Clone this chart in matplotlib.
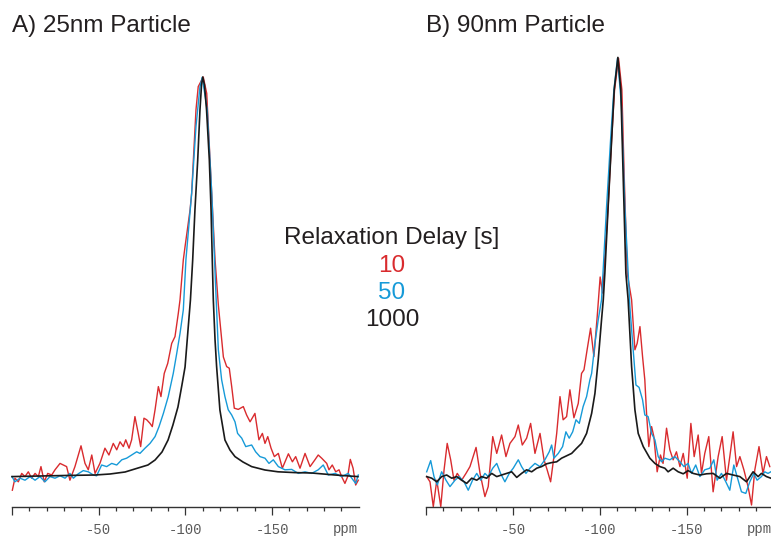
import matplotlib
matplotlib.use("Agg")
import matplotlib.pyplot as plt

# colours of the three relaxation delays
RED = '#d92b2e'
BLUE = '#169ad8'
BLACK = '#1a1a1a'

titles = ['A) 25nm Particle', 'B) 90nm Particle']
delays = ['10', '50', '1000']
legend_title = 'Relaxation Delay [s]'
major_ticks = [0, -50, -100, -150]
major_labels = ['', '-50', '-100', '-150']
minor_ticks = [-10, -20, -30, -40, -60, -70, -80, -90, -110, -120, -130, -140,
               -160, -170, -180, -190]

# ---- panel A (25 nm), delay 1000 s
a_black_ppm = [0, -16.1, -33.4, -47.9, -56.5, -65.2, -72.7, -78.4, -82.5, -86.5,
               -90.0, -92.8, -95.7, -98.0, -99.8, -101.5, -102.9, -104.2, -105.5, -107.1,
               -108.4, -109.3, -110.0, -111.0, -112.2, -113.8, -114.8, -115.5, -116.1, -117.1,
               -118.0, -119.9, -122.8, -125.7, -128.6, -133.2, -138.2, -145.9, -153.4, -163.2,
               -172.8, -186.3, -199.5]
a_black_int = [0.001, 0.0025, 0.004, 0.005, 0.0075, 0.0125, 0.0225, 0.03, 0.0425, 0.0625,
               0.0925, 0.13, 0.175, 0.23, 0.275, 0.3675, 0.4425, 0.5425, 0.6675, 0.7925,
               0.9175, 0.98, 1.0, 0.98, 0.9175, 0.7925, 0.6675, 0.5425, 0.4425, 0.3425,
               0.276, 0.1675, 0.0925, 0.0675, 0.051, 0.0375, 0.026, 0.0175, 0.013, 0.011,
               0.01, 0.005, 0.001]

# ---- panel A, delay 10 s
a_red_ppm = [-0.2, -1.7, -3.65, -5.6, -7.5, -9.4, -11.35, -13.3, -15.2, -16.7,
             -18.6, -20.6, -22.9, -24.8, -27.7, -29.6, -31.5, -33.4, -36.3, -39.8,
             -42.1, -44.0, -46.0, -47.9, -50.7, -53.6, -55.9, -58.4, -60.4, -62.3,
             -64.2, -65.6, -67.5, -69.0, -70.9, -72.8, -74.2, -76.1, -77.7, -79.6,
             -80.9, -82.5, -84.4, -85.9, -87.8, -89.8, -92.1, -94.0, -95.9, -96.9,
             -98.8, -99.8, -102.7, -103.6, -104.6, -106.1, -107.4, -110.3, -112.3, -114.2,
             -117.1, -119.0, -121.9, -123.8, -125.3, -126.7, -128.2, -130.5, -133.4, -135.3,
             -137.3, -140.1, -142.4, -144.4, -145.9, -147.5, -149.4, -151.3, -153.6, -155.9,
             -159.4, -161.7, -163.6, -166.1, -169.0, -171.9, -174.7, -176.6, -178.6, -181.5,
             -182.8, -184.7, -186.7, -188.6, -190.1, -192.0, -193.6, -195.1, -196.7, -198.2,
             -199.7]
a_red_int = [-0.033, -0.003, -0.012, 0.009, 0.001, 0.013, -0.003, 0.009, 0.001, 0.026,
             -0.012, 0.009, 0.005, 0.018, 0.034, 0.030, 0.026, -0.008, 0.026, 0.078,
             0.034, 0.018, 0.055, 0.009, 0.034, 0.072, 0.055, 0.084, 0.068, 0.088,
             0.076, 0.093, 0.072, 0.093, 0.151, 0.109, 0.076, 0.147, 0.143, 0.134,
             0.126, 0.168, 0.226, 0.201, 0.259, 0.284, 0.334, 0.351, 0.409, 0.443,
             0.543, 0.576, 0.668, 0.709, 0.793, 0.918, 0.976, 1.0, 0.959, 0.793,
             0.543, 0.43, 0.300, 0.276, 0.272, 0.226, 0.172, 0.169, 0.176, 0.155,
             0.138, 0.159, 0.093, 0.109, 0.084, 0.101, 0.072, 0.051, 0.059, 0.022,
             0.058, 0.038, 0.051, 0.022, 0.059, 0.026, 0.043, 0.055, 0.047, 0.034,
             0.018, 0.030, 0.013, 0.018, 0.001, -0.016, 0.001, 0.044, 0.022, -0.020,
             -0.008]

# ---- panel A, delay 50 s
a_blue_ppm = [0, -1.7, -4.6, -7.5, -10.4, -13.3, -16.1, -19.0, -21.9, -24.8,
              -27.7, -30.6, -33.4, -35.4, -38.2, -41.1, -44.0, -46.9, -48.8, -51.7,
              -54.6, -57.5, -60.4, -63.3, -66.1, -69.0, -71.9, -73.8, -76.7, -79.6,
              -82.5, -84.8, -87.3, -90.1, -93.0, -95.0, -96.9, -98.8, -100.3, -103.6,
              -106.1, -108.4, -109.7, -112.6, -115.2, -117.6, -119.0, -120.9, -122.8, -124.7,
              -126.7, -128.6, -130.1, -132.5, -134.8, -138.2, -140.5, -143.0, -145.9, -148.2,
              -150.7, -153.6, -157.4, -161.3, -165.1, -169.0, -172.8, -176.6, -179.5, -182.4,
              -186.3, -190.1, -193.9, -196.8, -198.2, -199.7]
a_blue_int = [0.001, -0.012, -0.003, -0.008, 0.001, -0.008, 0.001, -0.012, 0.001, -0.003,
              0.003, -0.003, 0.009, -0.003, 0.008, 0.016, 0.013, 0.005, 0.003, 0.030,
              0.026, 0.034, 0.030, 0.043, 0.047, 0.055, 0.063, 0.059, 0.072, 0.084,
              0.101, 0.126, 0.159, 0.201, 0.259, 0.309, 0.359, 0.418, 0.543, 0.709,
              0.876, 0.976, 0.999, 0.918, 0.709, 0.459, 0.318, 0.243, 0.201, 0.168,
              0.155, 0.138, 0.109, 0.097, 0.076, 0.080, 0.063, 0.051, 0.047, 0.034,
              0.043, 0.026, 0.018, 0.019, 0.009, 0.013, 0.009, 0.018, 0.030, 0.005,
              0.009, 0.001, 0.009, -0.008, -0.016, 0.005]

# ---- panel B (90 nm), delay 1000 s
b_black_ppm = [-0.4, -3.3, -6.2, -9.0, -11.9, -14.8, -17.7, -20.5, -23.4, -26.3,
               -29.2, -32.0, -34.9, -37.8, -40.7, -43.5, -46.4, -49.3, -52.2, -55.0,
               -57.9, -60.8, -63.7, -66.5, -69.4, -72.3, -75.2, -78.0, -80.9, -83.8,
               -86.7, -89.5, -92.4, -95.3, -97.2, -99.1, -101.0, -102.0, -102.9, -104.8,
               -106.8, -108.3, -110.4, -112.1, -113.4, -115.0, -116.3, -118.3, -120.2, -122.1,
               -125.0, -128.8, -131.7, -134.6, -137.4, -139.3, -142.2, -145.1, -148.0, -150.8,
               -153.7, -157.6, -161.4, -165.2, -169.1, -172.9, -176.7, -180.6, -184.4, -188.2,
               -191.1, -193.0, -195.9, -198.4]
b_black_int = [0.001, -0.003, -0.012, 0.001, 0.005, -0.003, 0.001, -0.008, -0.016, -0.003,
               -0.008, 0.001, -0.003, 0.009, 0.001, 0.005, 0.009, 0.013, -0.001, 0.009,
               0.018, 0.013, 0.022, 0.026, 0.033, 0.036, 0.038, 0.047, 0.053, 0.059,
               0.072, 0.084, 0.109, 0.159, 0.209, 0.293, 0.393, 0.443, 0.509, 0.676,
               0.843, 0.968, 1.049, 0.968, 0.759, 0.509, 0.443, 0.276, 0.168, 0.109,
               0.076, 0.047, 0.034, 0.026, 0.022, 0.013, 0.022, 0.013, 0.008, 0.016,
               0.009, 0.005, 0.008, 0.009, -0.003, 0.009, 0.005, 0.001, -0.012, 0.013,
               0.001, 0.009, 0.001, -0.003]

# ---- panel B, delay 10 s
b_red_ppm = [-0.4, -2.3, -4.2, -6.2, -8.5, -10.4, -12.2, -14.2, -16.1, -18.0,
             -20.5, -23.0, -25.3, -28.8, -31.1, -33.9, -35.8, -38.4, -40.7, -43.5,
             -46.0, -48.3, -51.2, -53.1, -55.4, -57.9, -60.2, -62.7, -65.6, -67.9,
             -69.7, -71.7, -73.6, -75.2, -77.1, -78.9, -80.9, -82.8, -85.1, -87.6,
             -89.5, -90.9, -92.7, -94.7, -96.6, -98.5, -100.2, -101.6, -104.8, -106.8,
             -108.5, -110.8, -112.7, -114.0, -115.8, -118.3, -120.2, -121.5, -123.1, -124.6,
             -125.9, -126.9, -128.2, -129.8, -131.1, -133.0, -134.9, -136.4, -138.4, -140.3,
             -142.2, -144.1, -146.1, -148.0, -150.3, -152.4, -154.3, -156.6, -158.5, -160.4,
             -162.7, -165.2, -168.1, -170.4, -172.9, -174.8, -176.7, -178.7, -180.6, -182.9,
             -185.3, -187.3, -189.2, -191.6, -193.9, -195.9, -197.8]
b_red_int = [0.001, -0.012, -0.074, -0.008, -0.074, 0.018, 0.084, 0.043, -0.008, 0.009,
             -0.008, 0.009, 0.026, 0.074, 0.009, -0.049, -0.024, 0.101, 0.059, 0.105,
             0.051, 0.084, 0.101, 0.130, 0.080, 0.097, 0.134, 0.059, 0.109, 0.043,
             0.018, -0.012, 0.051, 0.109, 0.201, 0.143, 0.151, 0.218, 0.148, 0.184,
             0.259, 0.268, 0.318, 0.372, 0.301, 0.401, 0.500, 0.460, 0.676, 0.843,
             0.968, 1.047, 0.968, 0.759, 0.509, 0.443, 0.318, 0.334, 0.376, 0.301,
             0.243, 0.159, 0.076, 0.126, 0.101, 0.013, 0.055, 0.034, 0.122, 0.068,
             0.043, 0.063, 0.026, 0.059, -0.003, 0.134, 0.051, 0.105, 0.009, 0.059,
             0.101, -0.037, 0.051, 0.101, -0.008, 0.051, 0.113, 0.026, 0.051, 0.018,
             -0.024, -0.070, 0.018, 0.076, 0.009, 0.051, 0.026]

# ---- panel B, delay 50 s
b_blue_ppm = [-0.4, -2.7, -4.6, -6.5, -9.0, -11.5, -13.8, -16.7, -19.1, -21.9,
              -24.3, -26.8, -29.2, -31.5, -33.9, -35.8, -38.4, -40.7, -42.9, -45.4,
              -47.9, -50.2, -53.1, -55.0, -57.5, -59.8, -62.7, -65.6, -68.4, -70.9,
              -72.3, -73.6, -76.1, -78.6, -80.5, -82.4, -84.4, -86.3, -88.2, -90.4,
              -92.4, -94.3, -95.3, -97.2, -99.1, -101.0, -103.9, -106.2, -108.1, -110.2,
              -112.5, -114.4, -117.3, -119.2, -120.8, -122.6, -124.6, -125.9, -127.8, -129.8,
              -131.7, -133.6, -135.5, -137.4, -140.3, -143.2, -146.1, -148.4, -150.8, -152.8,
              -155.2, -157.6, -160.4, -163.3, -165.6, -167.5, -170.0, -172.5, -174.8, -177.1,
              -179.0, -181.5, -184.0, -186.3, -188.6, -190.5, -193.0, -194.9, -196.8, -198.4]
b_blue_int = [0.013, 0.041, 0.001, -0.020, 0.013, -0.008, -0.024, -0.008, 0.001, -0.012,
              -0.033, -0.008, 0.009, -0.008, 0.009, 0.001, 0.022, 0.034, 0.009, -0.012,
              0.009, 0.022, 0.043, 0.026, 0.009, 0.022, 0.034, 0.026, 0.043, 0.063,
              0.080, 0.047, 0.059, 0.076, 0.113, 0.097, 0.113, 0.143, 0.134, 0.176,
              0.201, 0.243, 0.259, 0.334, 0.393, 0.443, 0.676, 0.843, 0.968, 1.047,
              0.926, 0.676, 0.426, 0.318, 0.230, 0.224, 0.193, 0.155, 0.151, 0.109,
              0.093, 0.051, 0.038, 0.047, 0.043, 0.051, 0.038, 0.026, 0.034, 0.009,
              0.030, 0.001, 0.018, 0.022, 0.043, -0.008, 0.009, -0.012, -0.033, 0.030,
              0.001, -0.037, -0.041, -0.012, 0.009, -0.008, 0.001, 0.013, 0.009, 0.013]

W, H = 771, 541
fig = plt.figure(figsize=(W / 100, H / 100), dpi=100)
text_font = ['Liberation Sans', 'DejaVu Sans']
tick_font = ['Liberation Mono', 'DejaVu Sans Mono']


def spectrum_axes(left_px, width_px, bottom_px=507, top_px=50):
    ax = fig.add_axes([left_px / W, 1 - bottom_px / H, width_px / W, (bottom_px - top_px) / H])
    ax.set_xlim(0, -200)
    ax.set_ylim(-0.075, 1.0675)
    for side in ['left', 'right', 'top']:
        ax.spines[side].set_visible(False)
    ax.spines['bottom'].set_color('#333333')
    ax.spines['bottom'].set_linewidth(1.0)
    ax.set_yticks([])
    ax.set_xticks(major_ticks)
    ax.set_xticklabels(major_labels, family=tick_font, color='#5a5a5a', fontsize=10)
    ax.set_xticks(minor_ticks, minor=True)
    ax.tick_params(axis='x', which='major', direction='out', length=5.8, width=0.9,
                   color='#333333', pad=6)
    ax.tick_params(axis='x', which='minor', direction='out', length=2.9, width=0.9,
                   color='#333333')
    ax.annotate('ppm', xy=(-192, 0), xycoords=('data', 'axes fraction'),
                xytext=(0, -10.5), textcoords='offset points', ha='center', va='top',
                family=tick_font, color='#5a5a5a', fontsize=10, annotation_clip=False)
    return ax


axA = spectrum_axes(12, 346.8)
axA.plot(a_red_ppm, a_red_int, color=RED, lw=1.0, clip_on=False)
axA.plot(a_blue_ppm, a_blue_int, color=BLUE, lw=1.0, clip_on=False)
axA.plot(a_black_ppm, a_black_int, color=BLACK, lw=1.2, clip_on=False)

axB = spectrum_axes(426, 347.6)
axB.plot(b_red_ppm, b_red_int, color=RED, lw=1.0, clip_on=False)
axB.plot(b_blue_ppm, b_blue_int, color=BLUE, lw=1.0, clip_on=False)
axB.plot(b_black_ppm, b_black_int, color=BLACK, lw=1.2, clip_on=False)

# panel titles
fig.text(12 / W, 1 - 32.3 / H, titles[0], fontsize=17.5, family=text_font,
         color='#231f20', va='baseline')
fig.text(426 / W, 1 - 32.3 / H, titles[1], fontsize=17.5, family=text_font,
         color='#231f20', va='baseline')

# legend written as centred text lines
fig.text(392 / W, 1 - 244.3 / H, legend_title, fontsize=17.5, family=text_font,
         color='#231f20', ha='center', va='baseline')
for label, col, base in zip(delays, [RED, BLUE, '#231f20'], [271.7, 299.3, 326.0]):
    fig.text(392 / W, 1 - base / H, label, fontsize=17.5, family=text_font,
             color=col, ha='center', va='baseline')

fig.savefig('out.png', dpi=100)
